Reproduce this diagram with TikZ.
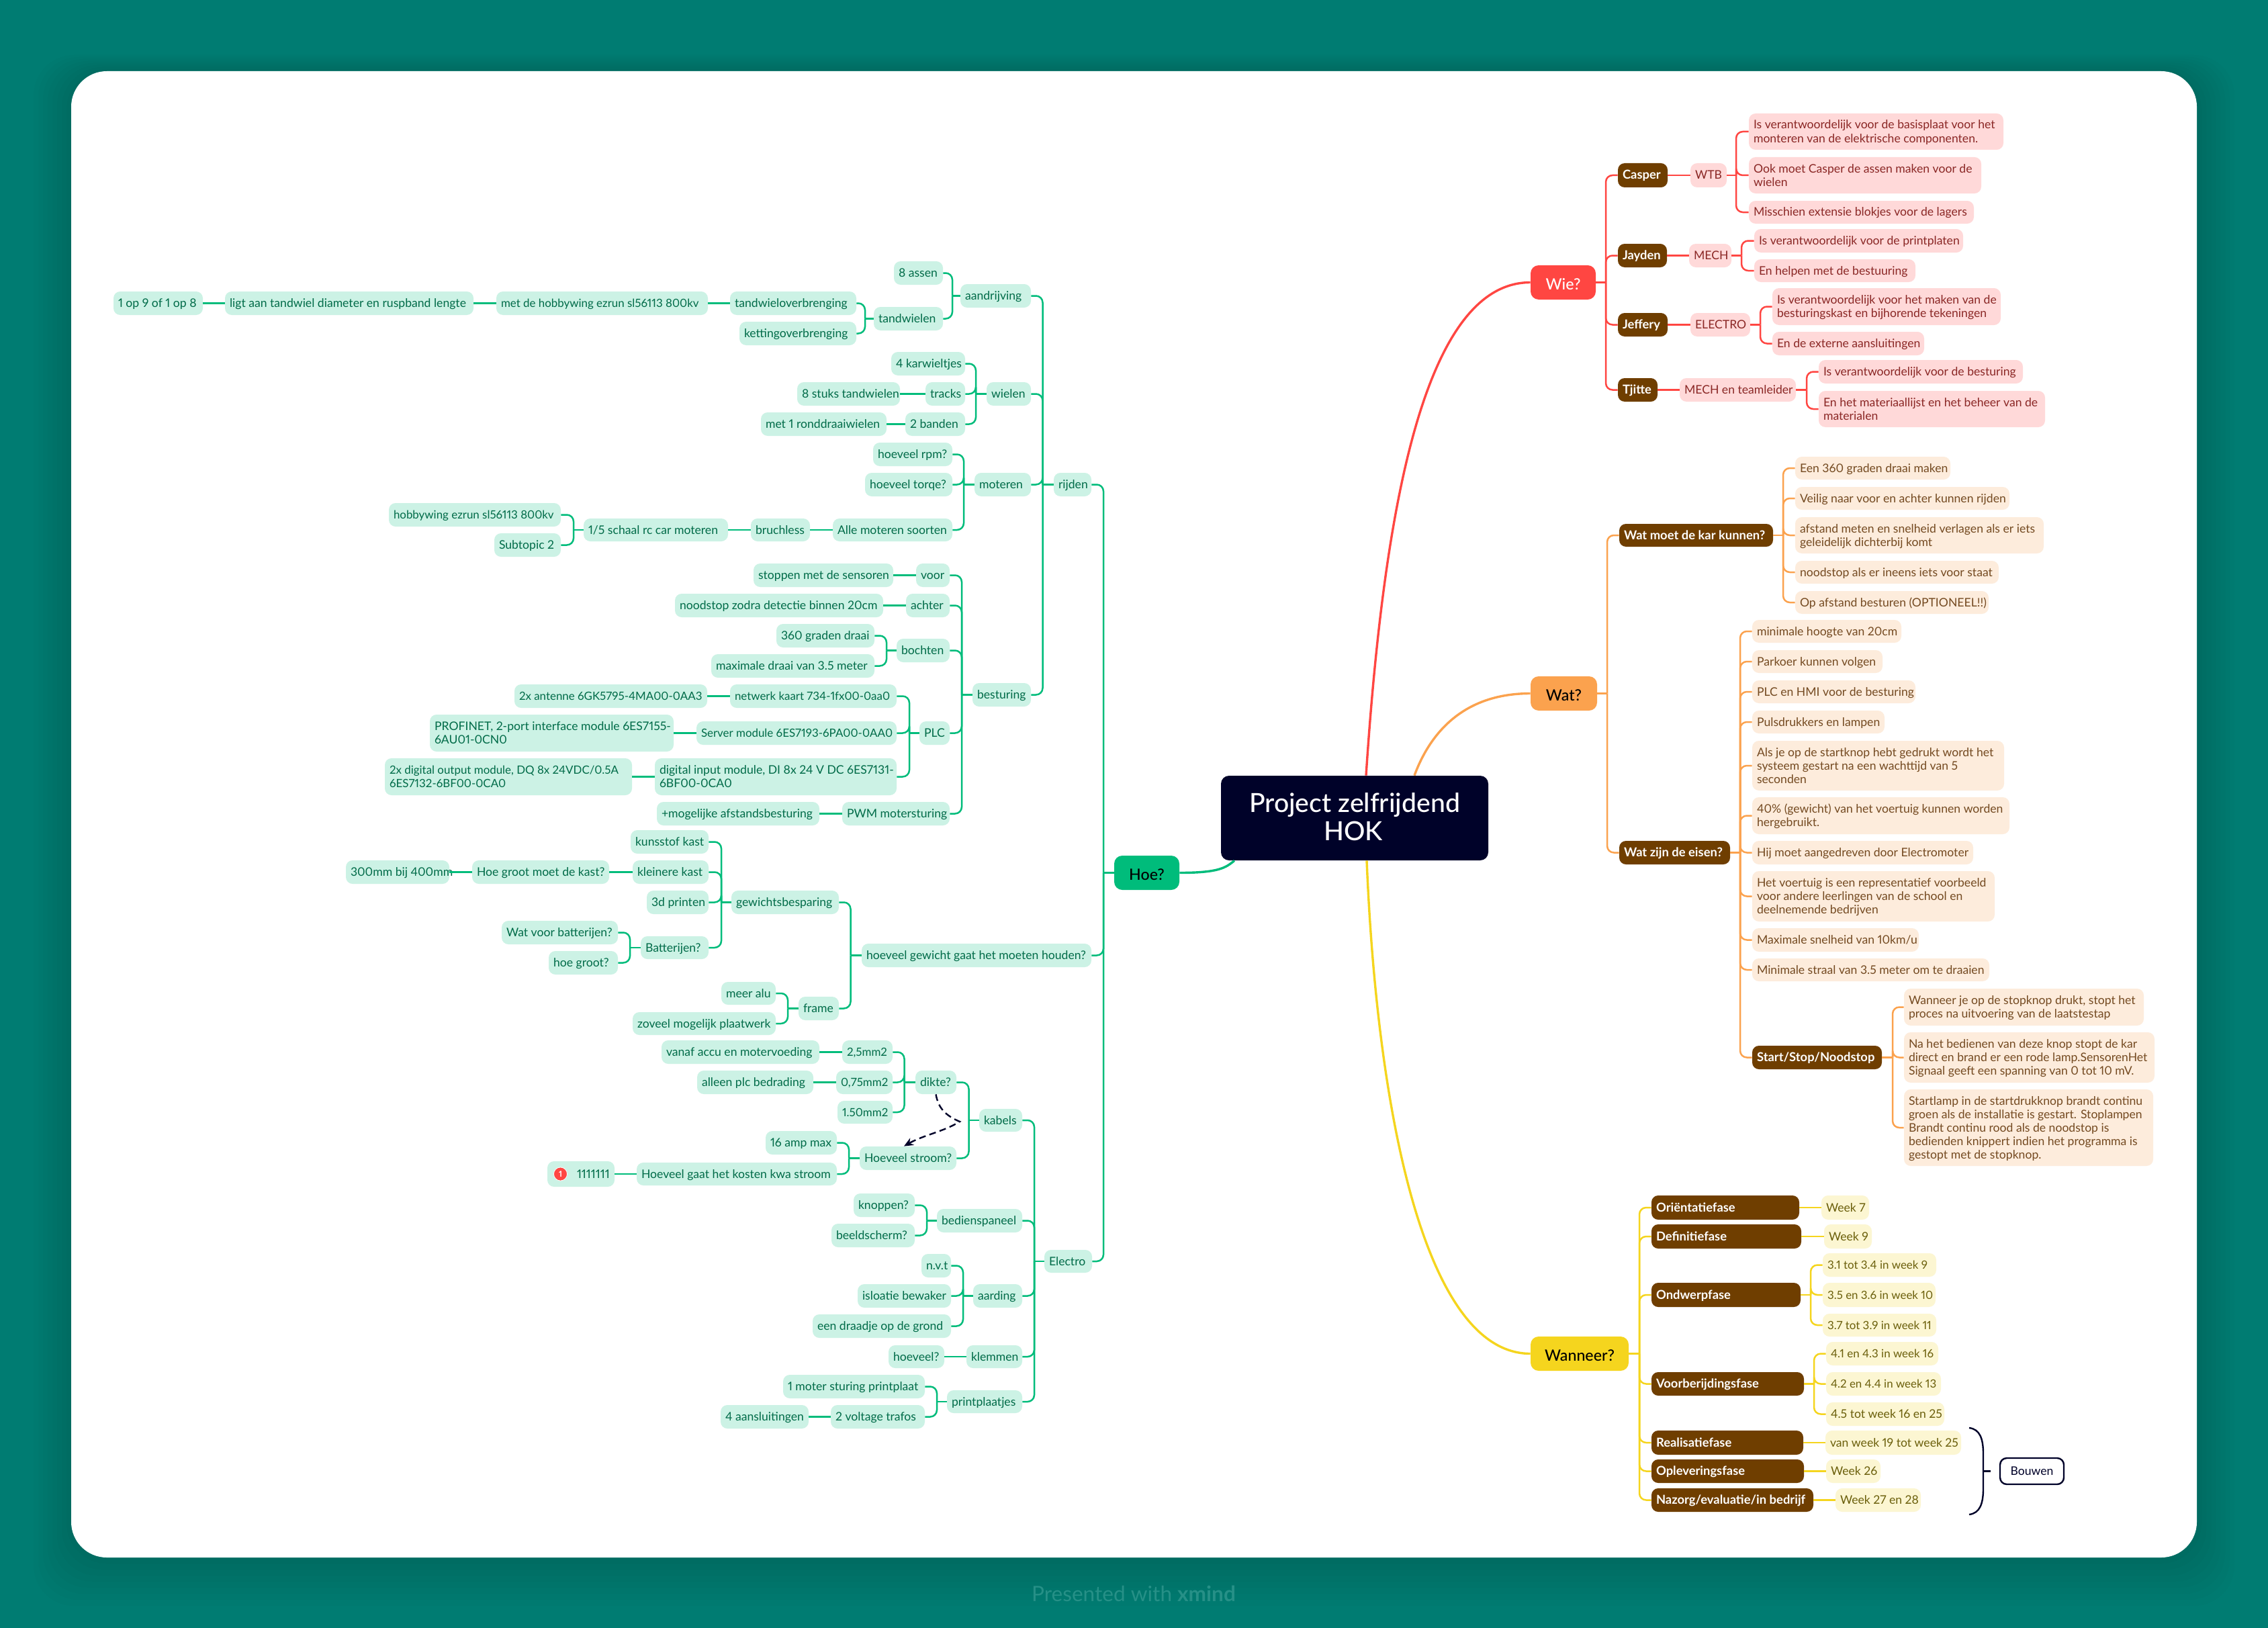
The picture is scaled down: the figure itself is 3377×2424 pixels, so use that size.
\documentclass[tikz,border=0pt]{standalone}
\usepackage{fontspec}
\usetikzlibrary{arrows.meta}
\setmainfont{Lato}[Numbers=Proportional]
\newfontfamily\latomed{Lato Medium}[Numbers=Proportional]
\definecolor{bgc}{HTML}{007C72}
\definecolor{navy}{HTML}{000229}
\definecolor{grn}{HTML}{00BC7B}
\definecolor{grnF}{HTML}{CCF2E5}
\definecolor{grnT}{HTML}{006B48}
\definecolor{rd}{HTML}{FF4642}
\definecolor{rdF}{HTML}{FFD9D9}
\definecolor{rdT}{HTML}{8A2725}
\definecolor{org}{HTML}{FBA24E}
\definecolor{orgF}{HTML}{FDECDC}
\definecolor{orgT}{HTML}{744A21}
\definecolor{yel}{HTML}{F5D51E}
\definecolor{yelF}{HTML}{FCF6D2}
\definecolor{yelT}{HTML}{6B5F0B}
\definecolor{brn}{HTML}{6F3E00}
\tikzset{
  basebox/.style={rounded corners=5pt,inner sep=0pt,font=\fontsize{8.8}{10}\selectfont},
  leafG/.style={basebox,fill=grnF,text=grnT},
  leafR/.style={basebox,fill=rdF,text=rdT},
  leafO/.style={basebox,fill=orgF,text=orgT},
  leafY/.style={basebox,fill=yelF,text=yelT},
  tight/.style={font=\fontsize{8.45}{10}\selectfont},
  brownbox/.style={basebox,fill=brn,text=white,font=\fontsize{9.2}{10}\selectfont\bfseries},
  branchbox/.style={rounded corners=6pt,inner sep=0pt,align=center,font=\fontsize{11.6}{14}\selectfont\latomed},
  lnG/.style={draw=grn,line width=1.25pt},
  lnR/.style={draw=rd,line width=1.25pt},
  lnO/.style={draw=org,line width=1.25pt},
  lnY/.style={draw=yel,line width=1.25pt},
  maincurve/.style={line width=1.7pt},
}
% left-aligned box: name, style, x0, y0, x1, y1, text
\newcommand{\nd}[7]{\pgfmathsetlengthmacro\tw{(#5-#3-14)*0.5pt}%
  \node[#2,minimum width={(#5-#3)*0.5pt},minimum height={(#6-#4)*0.5pt}] (#1) at ({(#3+#5)/2},{(#4+#6)/2}) {\makebox[\tw][l]{\begin{tabular}{@{}l@{}}\rule{0pt}{9pt}#7\end{tabular}}};}
% centred box
\newcommand{\ndc}[7]{\node[#2,minimum width={(#5-#3)*0.5pt},minimum height={(#6-#4)*0.5pt}] (#1) at ({(#3+#5)/2},{(#4+#6)/2}) {#7};}
% children to the right: line style, parent, bus x, children
\newcommand{\brR}[4]{%
  \coordinate (bus) at (#3,0);
  \draw[#1] (#2.east) -- (#2.east -| bus);
  \foreach \ch in {#4} {\draw[#1,rounded corners=5pt] (#2.east -| bus) -- (bus |- \ch.west) -- (\ch.west);}
}
% children to the left
\newcommand{\brL}[4]{%
  \coordinate (bus) at (#3,0);
  \draw[#1] (#2.west) -- (#2.west -| bus);
  \foreach \ch in {#4} {\draw[#1,rounded corners=5pt] (#2.west -| bus) -- (bus |- \ch.east) -- (\ch.east);}
}
\newcommand{\lkR}[3]{\draw[#1] (#2.east) -- (#3.west);}
\newcommand{\lkL}[3]{\draw[#1] (#2.west) -- (#3.east);}
\begin{document}
\begin{tikzpicture}[x=0.5pt,y=-0.5pt]
\useasboundingbox (0,0) rectangle (3377,2424);
\fill[bgc] (0,0) rectangle (3377,2424);
\foreach \i in {1,...,8} {
  \fill[black,opacity=0.016,rounded corners=30pt] ({106-7*\i},{106-3*\i}) rectangle ({3271+7*\i},{2319+9*\i});
}
\fill[white,rounded corners=26.5pt] (106,106) rectangle (3271,2319);

% ---- central and main topics
\ndc{central}{branchbox,fill=navy,text=white,font=\fontsize{19.6}{21}\selectfont\latomed}{1818}{1155}{2216}{1281}{Project zelfrijdend\hspace{2pt}\\HOK\hspace{2pt}\rule[-2pt]{0pt}{1pt}}
\ndc{wie}{branchbox,fill=rd,text=white}{2279}{395}{2376}{446}{\rule{0pt}{11pt}Wie?}
\ndc{wat}{branchbox,fill=org,text=black}{2279}{1007}{2378}{1058}{\rule{0pt}{11pt}Wat?}
\ndc{wanneer}{branchbox,fill=yel,text=black}{2279}{1990}{2425}{2041}{\rule{0pt}{11pt}Wanneer?}
\ndc{hoe}{branchbox,fill=grn,text=black}{1659}{1274}{1756}{1325}{\rule{0pt}{11pt}Hoe?}
\draw[maincurve,rd] ([xshift=8.5pt]central.north) .. controls (2060,760) and (2120,420.5) .. (wie.west);
\draw[maincurve,org] ([xshift=44.5pt]central.north) .. controls (2130,1090) and (2180,1032.5) .. (wat.west);
\draw[maincurve,yel] ([xshift=9pt]central.south) .. controls (2050,1650) and (2120,2015.5) .. (wanneer.west);
\draw[maincurve,grn] ([xshift=-89.5pt]central.south) .. controls (1825,1292) and (1815,1299.5) .. (hoe.east);

% ---- Wie?
\nd{casper}{brownbox}{2409}{243}{2483}{279}{Casper}
\nd{wtb}{leafR}{2517}{243}{2571}{279}{WTB}
\nd{w1}{leafR}{2604}{169}{2983}{223}{Is verantwoordelijk voor de basisplaat voor het\\monteren van de elektrische componenten.}
\nd{w2}{leafR}{2604}{234}{2950}{288}{Ook moet Casper de assen maken voor de\\wielen}
\nd{w3}{leafR}{2604}{299}{2939}{333}{Misschien extensie blokjes voor de lagers}
\nd{jayden}{brownbox}{2409}{363}{2482}{398}{Jayden}
\nd{mech}{leafR}{2515}{363}{2578}{398}{MECH}
\nd{j1}{leafR}{2612}{341}{2923}{376}{Is verantwoordelijk voor de printplaten}
\nd{j2}{leafR}{2612}{386}{2852}{420}{En helpen met de bestuuring}
\nd{jeffery}{brownbox}{2409}{466}{2483}{501}{Jeffery}
\nd{electro}{leafR}{2517}{466}{2606}{501}{ELECTRO}
\nd{f1}{leafR}{2639}{429}{2979}{484}{Is verantwoordelijk voor het maken van de\\besturingskast en bijhorende tekeningen}
\nd{f2}{leafR}{2639}{494}{2865}{529}{En de externe aansluitingen}
\nd{tjitte}{brownbox}{2409}{563}{2468}{598}{Tjitte}
\nd{mechteam}{leafR}{2501}{563}{2674}{598}{MECH en teamleider}
\nd{t1}{leafR}{2708}{536}{3012}{571}{Is verantwoordelijk voor de besturing}
\nd{t2}{leafR}{2708}{582}{3045}{636}{En het materiaallijst en het beheer van de\\materialen}
\brR{lnR}{wie}{2391}{casper,jayden,jeffery,tjitte}
\lkR{lnR}{casper}{wtb}\lkR{lnR}{jayden}{mech}\lkR{lnR}{jeffery}{electro}\lkR{lnR}{tjitte}{mechteam}
\brR{lnR}{wtb}{2585}{w1,w2,w3}
\brR{lnR}{mech}{2593}{j1,j2}
\brR{lnR}{electro}{2621}{f1,f2}
\brR{lnR}{mechteam}{2690}{t1,t2}

% ---- Wat?
\nd{kar}{brownbox}{2411}{780}{2640}{814}{Wat moet de kar kunnen?}
\nd{k1}{leafO}{2673}{680}{2904}{714}{Een 360 graden draai maken}
\nd{k2}{leafO}{2673}{725}{2992}{759}{Veilig naar voor en achter kunnen rijden}
\nd{k3}{leafO}{2673}{770}{3043}{824}{afstand meten en snelheid verlagen als er iets\\geleidelijk dichterbij komt}
\nd{k4}{leafO}{2673}{835}{2976}{869}{noodstop als er ineens iets voor staat}
\nd{k5}{leafO}{2673}{880}{2961}{914}{Op afstand besturen (OPTIONEEL!!)}
\nd{eisen}{brownbox}{2411}{1252}{2576}{1287}{Wat zijn de eisen?}
\nd{e1}{leafO}{2609}{923}{2831}{957}{minimale hoogte van 20cm}
\nd{e2}{leafO}{2609}{968}{2803}{1002}{Parkoer kunnen volgen}
\nd{e3}{leafO}{2609}{1013}{2852}{1047}{PLC en HMI voor de besturing}
\nd{e4}{leafO}{2609}{1058}{2806}{1092}{Pulsdrukkers en lampen}
\nd{e5}{leafO}{2609}{1103}{2984}{1177}{Als je op de startknop hebt gedrukt wordt het\\systeem gestart na een wachttijd van 5\\seconden}
\nd{e6}{leafO}{2609}{1187}{2992}{1242}{40\% (gewicht) van het voertuig kunnen worden\\hergebruikt.}
\nd{e7}{leafO}{2609}{1252}{2938}{1287}{Hij moet aangedreven door Electromoter}
\nd{e8}{leafO}{2609}{1297}{2970}{1372}{Het voertuig is een representatief voorbeeld\\voor andere leerlingen van de school en\\deelnemende bedrijven}
\nd{e9}{leafO}{2609}{1382}{2857}{1417}{Maximale snelheid van 10km/u}
\nd{e10}{leafO}{2609}{1427}{2962}{1461}{Minimale straal van 3.5 meter om te draaien}
\nd{sss}{brownbox}{2609}{1557}{2802}{1592}{Start/Stop/Noodstop}
\nd{s1}{leafO}{2835}{1472}{3192}{1527}{Wanneer je op de stopknop drukt, stopt het\\proces na uitvoering van de laatstestap}
\nd{s2}{leafO}{2835}{1537}{3208}{1612}{Na het bedienen van deze knop stopt de kar\\direct en brand er een rode lamp.SensorenHet\\Signaal geeft een spanning van 0 tot 10 mV.}
\nd{s3}{leafO}{2835}{1622}{3206}{1736}{Startlamp in de startdrukknop brandt continu\\groen als de installatie is gestart. Stoplampen\\Brandt continu rood als de noodstop is\\bedienden knippert indien het programma is\\gestopt met de stopknop.}
\brR{lnO}{wat}{2393}{kar,eisen}
\brR{lnO}{kar}{2655}{k1,k2,k3,k4,k5}
\brR{lnO}{eisen}{2591}{e1,e2,e3,e4,e5,e6,e7,e8,e9,e10,sss}
\brR{lnO}{sss}{2818}{s1,s2,s3}

% ---- Wanneer?
\nd{p1}{brownbox}{2459}{1780}{2679}{1816}{Oriëntatiefase}
\nd{p1a}{leafY}{2712}{1780}{2783}{1816}{Week 7}
\nd{p2}{brownbox}{2459}{1823}{2682}{1859}{Definitiefase}
\nd{p2a}{leafY}{2716}{1823}{2787}{1859}{Week 9}
\nd{p3}{brownbox}{2459}{1910}{2681}{1946}{Ondwerpfase}
\nd{p3a}{leafY,tight}{2714}{1866}{2883}{1901}{3.1 tot 3.4 in week 9}
\nd{p3b}{leafY,tight}{2714}{1910}{2882}{1946}{3.5 en 3.6 in week 10}
\nd{p3c}{leafY,tight}{2714}{1956}{2883}{1990}{3.7 tot 3.9 in week 11}
\nd{p4}{brownbox}{2459}{2043}{2686}{2078}{Voorberijdingsfase}
\nd{p4a}{leafY,tight}{2719}{1998}{2886}{2033}{4.1 en 4.3 in week 16}
\nd{p4b}{leafY,tight}{2719}{2043}{2890}{2078}{4.2 en 4.4 in week 13}
\nd{p4c}{leafY}{2719}{2088}{2895}{2123}{4.5 tot week 16 en 25}
\nd{p5}{brownbox}{2459}{2130}{2685}{2166}{Realisatiefase}
\nd{p5a}{leafY}{2718}{2130}{2920}{2166}{van week 19 tot week 25}
\nd{p6}{brownbox}{2459}{2173}{2686}{2208}{Opleveringsfase}
\nd{p6a}{leafY}{2719}{2173}{2800}{2208}{Week 26}
\nd{p7}{brownbox}{2459}{2216}{2700}{2251}{Nazorg/evaluatie/in bedrijf}
\nd{p7a}{leafY}{2733}{2216}{2860}{2251}{Week 27 en 28}
\brR{lnY}{wanneer}{2441}{p1,p2,p3,p4,p5,p6,p7}
\lkR{lnY}{p1}{p1a}\lkR{lnY}{p2}{p2a}\lkR{lnY}{p5}{p5a}\lkR{lnY}{p6}{p6a}\lkR{lnY}{p7}{p7a}
\brR{lnY}{p3}{2696}{p3a,p3b,p3c}
\brR{lnY}{p4}{2701}{p4a,p4b,p4c}
% summary brace
\ndc{bouwen}{basebox,fill=white,draw=navy,line width=1.2pt,text=navy}{2978}{2171}{3073}{2210}{Bouwen}
\coordinate (bracetop) at (2932,2126);
\coordinate (bracebot) at (2932,2255);
\coordinate (bracetip) at (2964,2190.5);
\draw[navy,line width=1.2pt] (bracetop) .. controls (2948,2128) and (2953,2142) .. (2953,2165) -- (2953,2216) .. controls (2953,2239) and (2948,2253) .. (bracebot);
\draw[navy,line width=1.2pt] (2953,2190.5) -- (bracetip);

% ---- Hoe? rijden
\nd{rijden}{leafG}{1569}{704}{1625}{739}{rijden}
\nd{aandrijving}{leafG}{1430}{423}{1535}{458}{aandrijving}
\nd{acht}{leafG}{1331}{389}{1404}{424}{8 assen}
\nd{tandwielen}{leafG}{1301}{457}{1404}{492}{tandwielen}
\nd{tover}{leafG}{1087}{434}{1275}{469}{tandwieloverbrenging}
\nd{ketting}{leafG}{1101}{479}{1275}{514}{kettingoverbrenging}
\nd{methobby}{leafG,tight}{739}{434}{1054}{469}{met de hobbywing ezrun sl56113 800kv}
\nd{ligt}{leafG}{335}{434}{705}{469}{ligt aan tandwiel diameter en ruspband lengte}
\nd{eenop}{leafG}{169}{434}{302}{469}{1 op 9 of 1 op 8}
\nd{wielen}{leafG}{1469}{569}{1535}{604}{wielen}
\nd{karw}{leafG}{1327}{524}{1437}{559}{4 karwieltjes}
\nd{tracks}{leafG}{1378}{569}{1437}{604}{tracks}
\nd{achtst}{leafG}{1187}{569}{1340}{604}{8 stuks tandwielen}
\nd{banden}{leafG}{1348}{614}{1437}{649}{2 banden}
\nd{ronddr}{leafG}{1133}{614}{1320}{649}{met 1 ronddraaiwielen}
\nd{moteren}{leafG}{1451}{704}{1535}{739}{moteren}
\nd{rpm}{leafG}{1300}{659}{1418}{694}{hoeveel rpm?}
\nd{torqe}{leafG}{1288}{704}{1418}{739}{hoeveel torqe?}
\nd{alle}{leafG}{1240}{772}{1418}{806}{Alle moteren soorten}
\nd{bruch}{leafG}{1118}{772}{1206}{806}{bruchless}
\nd{schaal}{leafG}{869}{772}{1084}{806}{1/5 schaal rc car moteren}
\nd{hobby}{leafG,tight}{579}{749}{835}{784}{hobbywing ezrun sl56113 800kv}
\nd{subt}{leafG}{736}{794}{835}{829}{Subtopic 2}
\nd{besturing}{leafG}{1448}{1017}{1535}{1052}{besturing}
\nd{voor}{leafG}{1364}{839}{1414}{874}{voor}
\nd{stoppen}{leafG}{1122}{839}{1330}{874}{stoppen met de sensoren}
\nd{achter}{leafG}{1349}{884}{1414}{919}{achter}
\nd{nood}{leafG}{1005}{884}{1315}{919}{noodstop zodra detectie binnen 20cm}
\nd{bochten}{leafG}{1335}{951}{1414}{986}{bochten}
\nd{graden}{leafG}{1156}{929}{1302}{964}{360 graden draai}
\nd{maxdr}{leafG}{1059}{974}{1302}{1009}{maximale draai van 3.5 meter}
\nd{plc}{leafG}{1369}{1074}{1414}{1109}{PLC}
\nd{netw}{leafG,tight}{1087}{1019}{1335}{1054}{netwerk kaart 734-1fx00-0aa0}
\nd{ant}{leafG,tight}{766}{1019}{1053}{1054}{2x antenne 6GK5795-4MA00-0AA3}
\nd{server}{leafG,tight}{1037}{1074}{1335}{1109}{Server module 6ES7193-6PA00-0AA0}
\nd{prof}{leafG}{640}{1064}{1003}{1119}{PROFINET, 2-port interface module 6ES7155-\\6AU01-0CN0}
\nd{digin}{leafG}{975}{1129}{1335}{1184}{digital input module, DI 8x 24 V DC 6ES7131-\\6BF00-0CA0}
\nd{digout}{leafG,tight}{573}{1129}{941}{1184}{2x digital output module, DQ 8x 24VDC/0.5A\\6ES7132-6BF00-0CA0}
\nd{pwm}{leafG}{1254}{1194}{1414}{1229}{PWM motersturing}
\nd{afst}{leafG}{978}{1194}{1220}{1229}{+mogelijke afstandsbesturing}
\brL{lnG}{rijden}{1552.5}{aandrijving,wielen,moteren,besturing}
\brL{lnG}{aandrijving}{1418}{acht,tandwielen}
\brL{lnG}{tandwielen}{1288}{tover,ketting}
\lkL{lnG}{tover}{methobby}\lkL{lnG}{methobby}{ligt}\lkL{lnG}{ligt}{eenop}
\brL{lnG}{wielen}{1453}{karw,tracks,banden}
\lkL{lnG}{tracks}{achtst}\lkL{lnG}{banden}{ronddr}
\brL{lnG}{moteren}{1435}{rpm,torqe,alle}
\lkL{lnG}{alle}{bruch}\lkL{lnG}{bruch}{schaal}
\brL{lnG}{schaal}{854}{hobby,subt}
\brL{lnG}{besturing}{1432}{voor,achter,bochten,plc,pwm}
\lkL{lnG}{voor}{stoppen}\lkL{lnG}{achter}{nood}
\brL{lnG}{bochten}{1320}{graden,maxdr}
\brL{lnG}{plc}{1354}{netw,server,digin}
\lkL{lnG}{netw}{ant}\lkL{lnG}{server}{prof}\lkL{lnG}{digin}{digout}\lkL{lnG}{pwm}{afst}

% ---- Hoe? gewicht
\nd{gewicht}{leafG}{1283}{1405}{1625}{1440}{hoeveel gewicht gaat het moeten houden?}
\nd{gewb}{leafG}{1089}{1326}{1249}{1361}{gewichtsbesparing}
\nd{kunst}{leafG}{939}{1236}{1055}{1271}{kunsstof kast}
\nd{kleiner}{leafG}{942}{1281}{1055}{1316}{kleinere kast}
\nd{hoegr}{leafG}{703}{1281}{907}{1316}{Hoe groot moet de kast?}
\nd{mm}{leafG}{515}{1281}{669}{1316}{300mm bij 400mm}
\nd{print}{leafG}{963}{1326}{1055}{1361}{3d printen}
\nd{batt}{leafG}{954}{1394}{1055}{1428}{Batterijen?}
\nd{watbat}{leafG}{747}{1371}{920}{1406}{Wat voor batterijen?}
\nd{hoeg}{leafG}{817}{1416}{920}{1451}{hoe groot?}
\nd{frame}{leafG}{1189}{1484}{1249}{1519}{frame}
\nd{alu}{leafG}{1074}{1462}{1155}{1496}{meer alu}
\nd{plaat}{leafG}{942}{1507}{1155}{1541}{zoveel mogelijk plaatwerk}
\brL{lnG}{gewicht}{1266.5}{gewb,frame}
\brL{lnG}{gewb}{1074}{kunst,kleiner,print,batt}
\lkL{lnG}{kleiner}{hoegr}\lkL{lnG}{hoegr}{mm}
\brL{lnG}{batt}{938}{watbat,hoeg}
\brL{lnG}{frame}{1173}{alu,plaat}

% ---- Hoe? Electro
\nd{electroh}{leafG}{1555}{1861}{1626}{1895}{Electro}
\nd{kabels}{leafG}{1458}{1651}{1522}{1685}{kabels}
\nd{dikte}{leafG}{1363}{1594}{1424}{1629}{dikte?}
\nd{mma}{leafG,tight}{1254}{1549}{1329}{1584}{2,5mm2}
\nd{vanaf}{leafG}{985}{1549}{1220}{1584}{vanaf accu en motervoeding}
\nd{mmb}{leafG,tight}{1245}{1594}{1329}{1629}{0,75mm2}
\nd{alleen}{leafG}{1038}{1594}{1211}{1629}{alleen plc bedrading}
\nd{mmc}{leafG,tight}{1247}{1639}{1329}{1673}{1.50mm2}
\nd{stroom}{leafG}{1280}{1707}{1424}{1742}{Hoeveel stroom?}
\nd{amp}{leafG}{1140}{1684}{1246}{1719}{16 amp max}
\nd{kosten}{leafG}{948}{1731}{1246}{1765}{Hoeveel gaat het kosten kwa stroom}
\nd{ones}{leafG}{815}{1729}{915}{1767}{\hspace*{18.5pt}1111111}
\node[circle,fill=rd,draw=white,line width=0.4pt,inner sep=0pt,minimum size=10pt,text=white,font=\fontsize{6}{6}\selectfont\bfseries] (badge) at (834.5,1748) {1};
\nd{bedien}{leafG}{1395}{1800}{1522}{1835}{bedienspaneel}
\nd{knop}{leafG}{1271}{1777}{1362}{1812}{knoppen?}
\nd{beeld}{leafG}{1238}{1822}{1362}{1857}{beeldscherm?}
\nd{aarding}{leafG}{1449}{1912}{1522}{1947}{aarding}
\nd{nvt}{leafG}{1372}{1867}{1416}{1902}{n.v.t}
\nd{isol}{leafG}{1277}{1912}{1416}{1947}{isloatie bewaker}
\nd{draad}{leafG}{1210}{1957}{1416}{1992}{een draadje op de grond}
\nd{klem}{leafG}{1439}{2003}{1522}{2037}{klemmen}
\nd{hoev}{leafG}{1323}{2003}{1406}{2037}{hoeveel?}
\nd{printp}{leafG}{1410}{2070}{1522}{2104}{printplaatjes}
\nd{moter}{leafG}{1166}{2047}{1377}{2082}{1 moter sturing printplaat}
\nd{volt}{leafG}{1237}{2092}{1377}{2127}{2 voltage trafos}
\nd{aansl}{leafG}{1073}{2092}{1204}{2127}{4 aansluitingen}
\brL{lnG}{hoe}{1643}{rijden,gewicht,electroh}
\brL{lnG}{electroh}{1540}{kabels,bedien,aarding,klem,printp}
\brL{lnG}{kabels}{1442.5}{dikte,stroom}
\brL{lnG}{dikte}{1346.5}{mma,mmb,mmc}
\lkL{lnG}{mma}{vanaf}\lkL{lnG}{mmb}{alleen}
\brL{lnG}{stroom}{1264}{amp,kosten}
\lkL{lnG}{kosten}{ones}
\brL{lnG}{bedien}{1380}{knop,beeld}
\brL{lnG}{aarding}{1434}{nvt,isol,draad}
\lkL{lnG}{klem}{hoev}
\brL{lnG}{printp}{1395}{moter,volt}
\lkL{lnG}{volt}{aansl}
\coordinate (dashbend) at (1429,1670);
\draw[navy,line width=1.2pt,dash pattern=on 5pt off 3pt,-{Stealth[length=7pt,width=6pt]}] (dikte.south) .. controls (1397,1650) and (1408,1661) .. (dashbend) .. controls (1405,1685) and (1375,1690) .. ([xshift=-3pt]stroom.north);

% ---- footer
\node[inner sep=0pt,text=bgc!85!white,font=\fontsize{15.8}{18}\selectfont] (footer) at (1688,2373) {Presented with \textbf{xmind}};
\end{tikzpicture}
\end{document}
